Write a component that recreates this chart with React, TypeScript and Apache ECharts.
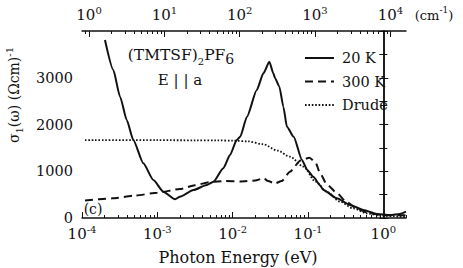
import React, { useEffect, useRef } from "react";
import * as echarts from "echarts";

// conversion between photon energy and wavenumber
const CM_PER_EV = 8065.54;
const E_MIN = 1e-4;
const E_MAX = 2;

// tick labels
const bottomLabelExps = [-4, -3, -2, -1, 0];
const topLabelExps = [0, 1, 2, 3, 4];
const yLabels = [0, 1000, 2000, 3000];

// 20 K (log10 of photon energy in eV, sigma1 in (Ohm cm)^-1)
const logE20K = [
  -3.695, -3.584, -3.495, -3.406, -3.319, -3.186, -3.053, -2.92, -2.765, -2.7,
  -2.52, -2.345, -2.256, -2.124, -2.035, -1.946, -1.9, -1.81, -1.68, -1.592,
  -1.513, -1.46, -1.437, -1.38, -1.327, -1.28, -1.19, -1.08, -1.01, -0.93,
  -0.84, -0.795, -0.617, -0.44, -0.264, -0.087, 0.09, 0.22, 0.301,
];
const sigma20K = [
  3807, 3166, 2595, 2096, 1668, 1170, 813, 563, 400, 456,
  599, 706, 777, 1063, 1348, 1668, 1739, 2167, 2738, 3095,
  3343, 3095, 2988, 2809, 2381, 1953, 1739, 1241, 1027, 880,
  700, 599, 421, 278, 171, 86, 64, 86, 135,
];

// 300 K
const logE300K = [
  -3.96, -3.6, -3.3, -3.0, -2.7, -2.5, -2.3, -2.1, -1.9, -1.7,
  -1.59, -1.53, -1.44, -1.35, -1.24, -1.1, -0.98, -0.9, -0.84, -0.75,
  -0.62, -0.49, -0.35, -0.18, 0.0, 0.301,
];
const sigma300K = [
  375, 420, 480, 540, 620, 700, 770, 790, 780, 800,
  850, 790, 740, 790, 990, 1230, 1290, 1190, 960, 720,
  540, 345, 200, 100, 60, 60,
];

// Drude fit
const logEDrude = [
  -3.96, -3.0, -2.5, -2.2, -2.0, -1.8, -1.6, -1.4, -1.24, -1.06,
  -0.9, -0.75, -0.574, -0.4, -0.22, -0.04, 0.301,
];
const sigmaDrude = [
  1665, 1665, 1662, 1660, 1655, 1640, 1580, 1440, 1311, 1100,
  780, 560, 349, 207, 100, 50, 20,
];

const FONT = "'DejaVu Serif', 'Liberation Serif', serif";
const INK = "#111";

const toPairs = (xs: number[], ys: number[]) => xs.map((x, i) => [x, ys[i]]);

export default function App() {
  const ref = useRef<HTMLDivElement>(null);

  useEffect(() => {
    if (!ref.current) return;
    document.body.style.margin = "0";
    const chart = echarts.init(ref.current, undefined, { renderer: "svg" });

    const xMin = Math.log10(E_MIN);
    const xMax = Math.log10(E_MAX);
    const cmShift = Math.log10(CM_PER_EV);

    const bottomMinor: number[] = [];
    for (let n = -4; n <= 0; n++) {
      for (let k = 2; k <= 9; k++) {
        const v = n + Math.log10(k);
        if (v <= xMax + 1e-9) bottomMinor.push(v);
      }
    }
    const topMajor = topLabelExps.map((n) => n - cmShift);
    const topMinor: number[] = [];
    for (let n = -1; n <= 4; n++) {
      for (let k = 2; k <= 9; k++) {
        const v = n + Math.log10(k) - cmShift;
        if (v >= xMin && v <= xMax) topMinor.push(v);
      }
    }

    const lineAx = { show: true, lineStyle: { color: INK, width: 1.5 } };
    const rich = {
      b: { fontSize: 15, fontFamily: FONT, color: INK, lineHeight: 20 },
      s: { fontSize: 10, fontFamily: FONT, color: INK, lineHeight: 10, verticalAlign: "top" },
    };

    const baseX = {
      type: "value",
      min: xMin,
      max: xMax,
      splitLine: { show: false },
      gridIndex: 0,
    };

    chart.setOption({
      animation: false,
      backgroundColor: "#fff",
      textStyle: { fontFamily: FONT },
      grid: { left: 82, right: 57, top: 31, bottom: 50, containLabel: false },
      legend: {
        orient: "vertical",
        left: 299,
        top: 44,
        itemWidth: 29,
        itemHeight: 14,
        itemGap: 5.5,
        data: ["20 K", "300 K", "Drude"],
        itemStyle: { opacity: 0 },
        textStyle: { fontFamily: FONT, fontSize: 14.5, color: INK, lineHeight: 18, padding: [0, 0, 0, 3] },
        selectedMode: false,
      },
      xAxis: [
        {
          ...baseX,
          position: "bottom",
          axisLine: lineAx,
          axisTick: { show: true, inside: true, length: 6, customValues: bottomLabelExps, lineStyle: { color: INK, width: 1 } },
          axisLabel: {
            show: true,
            customValues: bottomLabelExps,
            margin: 6,
            fontFamily: FONT,
            formatter: (v: number) => `{b|10}{s|${Math.round(v)}}`,
            rich,
          },
        },
        {
          ...baseX,
          position: "bottom",
          axisLine: { show: false },
          axisTick: { show: true, inside: true, length: 3, customValues: bottomMinor, lineStyle: { color: INK, width: 1 } },
          axisLabel: { show: false },
        },
        {
          ...baseX,
          position: "top",
          axisLine: lineAx,
          axisTick: { show: true, inside: true, length: 6, customValues: topMajor, lineStyle: { color: INK, width: 1 } },
          axisLabel: {
            show: true,
            customValues: topMajor,
            margin: 6,
            fontFamily: FONT,
            formatter: (v: number) => `{b|10}{s|${Math.round(v + cmShift)}}`,
            rich,
          },
        },
        {
          ...baseX,
          position: "top",
          axisLine: { show: false },
          axisTick: { show: true, inside: true, length: 3, customValues: topMinor, lineStyle: { color: INK, width: 1 } },
          axisLabel: { show: false },
        },
      ],
      yAxis: [
        {
          type: "value",
          position: "left",
          min: 0,
          max: 4000,
          interval: 1000,
          splitLine: { show: false },
          axisLine: lineAx,
          axisTick: { show: true, inside: true, length: 5, lineStyle: { color: INK } },
          minorTick: { show: true, splitNumber: 2, length: 4, lineStyle: { color: INK } },
          axisLabel: {
            margin: 9,
            fontFamily: FONT,
            fontSize: 14.5,
            color: INK,
            customValues: yLabels,
            formatter: (v: number) => String(v),
          },
        },
        {
          type: "value",
          position: "right",
          min: 0,
          max: 4000,
          interval: 500,
          splitLine: { show: false },
          axisLine: lineAx,
          axisTick: { show: true, inside: true, length: 4, lineStyle: { color: INK } },
          axisLabel: { show: false },
        },
      ],
      series: [
        {
          name: "20 K",
          type: "line",
          xAxisIndex: 0,
          yAxisIndex: 0,
          data: toPairs(logE20K, sigma20K),
          symbol: "none",
          smooth: 0.2,
          smoothMonotone: "x",
          lineStyle: { color: INK, width: 2, type: "solid" },
          itemStyle: { color: INK },
        },
        {
          name: "300 K",
          type: "line",
          xAxisIndex: 0,
          yAxisIndex: 0,
          data: toPairs(logE300K, sigma300K),
          symbol: "none",
          smooth: 0.2,
          smoothMonotone: "x",
          lineStyle: { color: INK, width: 2, type: [8, 5] },
          itemStyle: { color: INK },
        },
        {
          name: "Drude",
          type: "line",
          xAxisIndex: 0,
          yAxisIndex: 0,
          data: toPairs(logEDrude, sigmaDrude),
          symbol: "none",
          smooth: 0.3,
          smoothMonotone: "x",
          lineStyle: { color: INK, width: 1.8, type: [1.6, 1.8] },
          itemStyle: { color: INK },
        },
      ],
      graphic: [
        {
          type: "text",
          x: 238,
          y: 257,
          style: {
            text: "Photon Energy (eV)",
            font: `16px ${FONT}`,
            fill: INK,
            align: "center",
            verticalAlign: "middle",
          },
        },
        {
          type: "text",
          x: 14,
          y: 95,
          rotation: Math.PI / 2,
          style: {
            text: "{m|σ}{sub|1}{m|(ω) (Ωcm)}{sup|-1}",
            align: "center",
            verticalAlign: "middle",
            rich: {
              m: { fontSize: 14, fontFamily: FONT, fill: INK, lineHeight: 20 },
              sub: { fontSize: 10, fontFamily: FONT, fill: INK, lineHeight: 10, verticalAlign: "bottom" },
              sup: { fontSize: 10, fontFamily: FONT, fill: INK, lineHeight: 10, verticalAlign: "top" },
            },
          },
        },
        {
          type: "text",
          x: 434,
          y: 15,
          style: {
            text: "{m|(cm}{sup|-1}{m|)}",
            align: "center",
            verticalAlign: "middle",
            rich: {
              m: { fontSize: 13, fontFamily: FONT, fill: INK, lineHeight: 20 },
              sup: { fontSize: 9, fontFamily: FONT, fill: INK, lineHeight: 10, verticalAlign: "top" },
            },
          },
        },
        {
          type: "text",
          x: 181,
          y: 55,
          style: {
            text: "{m|(TMTSF)}{sub|2}{m|PF}{sub6|6}",
            align: "center",
            verticalAlign: "middle",
            rich: {
              m: { fontSize: 15.5, fontFamily: FONT, fill: INK, lineHeight: 22 },
              sub: { fontSize: 10, fontFamily: FONT, fill: INK, lineHeight: 12, verticalAlign: "bottom" },
              sub6: { fontSize: 14, fontFamily: FONT, fill: INK, lineHeight: 16, verticalAlign: "bottom" },
            },
          },
        },
        {
          type: "text",
          x: 180,
          y: 80,
          style: {
            text: "E | | a",
            font: `15px ${FONT}`,
            fill: INK,
            align: "center",
            verticalAlign: "middle",
          },
        },
        {
          type: "text",
          x: 93,
          y: 209,
          style: {
            text: "(c)",
            font: `14px ${FONT}`,
            fill: INK,
            align: "center",
            verticalAlign: "middle",
          },
        },
      ],
    });

    return () => chart.dispose();
  }, []);

  return <div ref={ref} style={{ width: 463, height: 268 }} />;
}
